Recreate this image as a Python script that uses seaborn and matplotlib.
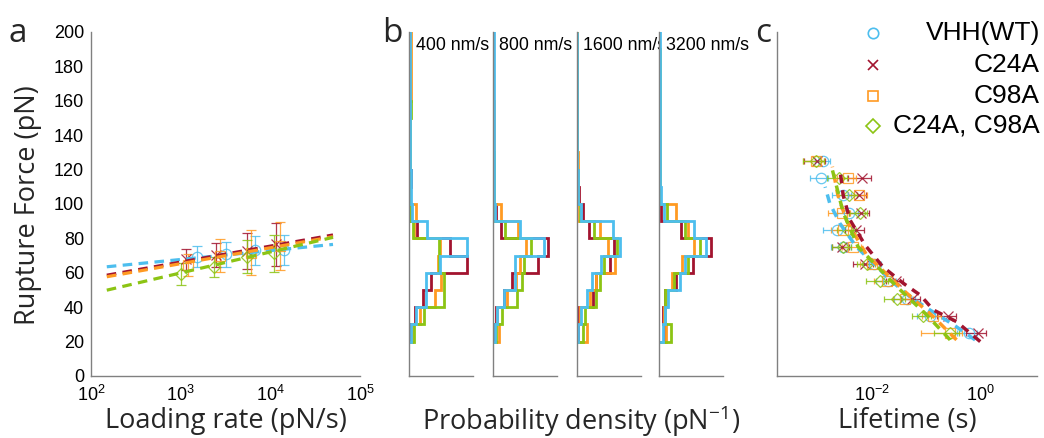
import numpy as np
import pandas as pd
import matplotlib
matplotlib.use("Agg")
import matplotlib.pyplot as plt
import seaborn as sns
from matplotlib.ticker import FixedLocator, NullFormatter, LogLocator, NullLocator
from matplotlib.lines import Line2D

sns.set_theme(style="white")
plt.rcParams['font.family'] = ['Liberation Sans', 'DejaVu Sans']
plt.rcParams['mathtext.fontset'] = 'custom'
plt.rcParams['mathtext.rm'] = 'Liberation Sans'
plt.rcParams['mathtext.it'] = 'Liberation Sans:italic'
plt.rcParams['mathtext.default'] = 'regular'

# ---------------- data ----------------
constructs = ["VHH(WT)", "C24A", "C98A", "C24A, C98A"]
colors = {"VHH(WT)": "#4DBEEE", "C24A": "#A2142F", "C98A": "#FF9A22", "C24A, C98A": "#8CC414"}
markers = {"VHH(WT)": "o", "C24A": "x", "C98A": "s", "C24A, C98A": "D"}

# panel a: loading rate (pN/s) vs most probable rupture force (pN)
rate_wt = [1540, 3240, 6730, 14100]
force_wt = [69.4, 70.8, 73.1, 73.1]
err_wt = [6.0, 7.3, 8.3, 8.7]
rate_c24 = [1155, 2500, 5500, 11500]
force_c24 = [67.8, 70.3, 72.7, 76.5]
err_c24 = [6.3, 6.8, 10.7, 12.5]
rate_c98 = [1206, 2770, 6050, 12900]
force_c98 = [64.5, 70.0, 71.8, 75.6]
err_c98 = [6.5, 9.5, 13.0, 14.0]
rate_dbl = [1000, 2330, 5500, 11000]
force_dbl = [59.2, 63.5, 69.3, 71.3]
err_dbl = [6.3, 5.9, 9.7, 10.7]

fit_rate = [150, 50000]
fit_wt = [63.5, 76.5]
fit_c24 = [58.6, 82.0]
fit_c98 = [57.7, 81.0]
fit_dbl = [49.9, 80.6]

# panel b: histograms of rupture force (density, 1e-3 pN^-1), bins 20..200 pN
bin_edges = list(range(20, 201, 10))
speeds = ["400 nm/s", "800 nm/s", "1600 nm/s", "3200 nm/s"]
hist_wt = [
    [1.2, 4.2, 10.2, 10.2, 18.8, 35.2, 10.8, 1.6, 0.8, 0.8, 0.6, 0.4, 0.3, 0.3, 0.3, 0.2, 0.2, 0.2],
    [1.2, 2.6, 6.6, 13.6, 13.2, 31.2, 16.6, 1.2, 0.6, 0.4, 0.4, 0.4, 0.4, 0.4, 0.4, 0.4, 0.4, 0.4],
    [1.0, 2.4, 6.0, 9.0, 15.0, 26.4, 22.0, 2.4, 0.6, 0.6, 0.4, 0.4, 0.4, 0.4, 0.4, 0.4, 0.4, 0.4],
    [2.0, 3.6, 5.2, 12.6, 15.6, 28.6, 21.2, 2.6, 0.8, 0.6, 0.4, 0.4, 0.4, 0.4, 0.4, 0.4, 0.4, 0.4],
]
hist_c24 = [
    [0.6, 3.2, 8.2, 13.2, 35.2, 24.6, 4.8, 0.8, 0.4, 0.8, 0.4, 0.0, 0.4, 0.0, 0.0, 0.0, 0.0, 0.0],
    [0.4, 1.6, 6.6, 11.6, 27.2, 33.2, 4.8, 1.6, 0.6, 0.6, 0.4, 0.2, 0.2, 0.0, 0.0, 0.0, 0.0, 0.0],
    [1.0, 1.6, 10.0, 12.0, 20.4, 22.4, 7.6, 3.6, 1.2, 0.8, 0.4, 0.2, 0.0, 0.0, 0.0, 0.0, 0.0, 0.0],
    [3.2, 2.0, 3.2, 10.0, 20.6, 31.6, 13.2, 0.8, 0.6, 0.6, 0.6, 0.4, 0.4, 0.4, 0.2, 0.0, 0.0, 0.0],
]
hist_c98 = [
    [1.6, 6.2, 15.6, 19.2, 17.2, 18.8, 2.8, 4.2, 0.6, 0.4, 0.4, 0.4, 0.6, 0.6, 0.8, 0.8, 1.0, 1.0],
    [3.6, 2.6, 8.6, 14.0, 16.6, 20.2, 15.2, 4.8, 0.6, 0.4, 0.4, 0.4, 0.6, 0.4, 0.0, 0.0, 0.0, 0.0],
    [6.0, 2.0, 8.0, 12.0, 23.0, 19.0, 14.0, 0.4, 0.6, 0.6, 0.6, 0.4, 0.0, 0.0, 0.0, 0.0, 0.0, 0.0],
    [4.0, 2.6, 4.6, 7.6, 14.0, 21.2, 17.6, 10.0, 0.6, 0.6, 0.4, 0.4, 0.4, 0.4, 0.6, 0.6, 0.2, 0.0],
]
hist_dbl = [
    [2.8, 8.8, 21.2, 21.2, 18.0, 17.8, 2.4, 0.4, 0.6, 0.4, 0.4, 0.4, 0.6, 0.8, 0.0, 0.0, 0.0, 0.0],
    [1.6, 5.2, 14.6, 17.6, 18.6, 23.2, 7.2, 0.4, 0.6, 0.4, 0.4, 0.2, 0.2, 0.0, 0.0, 0.0, 0.0, 0.0],
    [3.6, 5.0, 12.0, 14.0, 16.4, 24.4, 10.4, 2.0, 1.0, 0.6, 0.4, 0.4, 0.4, 0.4, 0.4, 0.4, 0.4, 0.4],
    [7.2, 3.6, 3.6, 9.2, 17.6, 24.6, 15.6, 4.6, 0.6, 0.4, 0.4, 0.4, 0.4, 0.2, 0.2, 0.2, 0.2, 0.0],
]

# panel c: force-dependent lifetime (s)
life_force = [25, 35, 45, 55, 65, 75, 85, 95, 105, 115, 125]
life_wt = [0.62, 0.118, 0.044, 0.020, 0.011, 0.0030, 0.0023, 0.0039, 0.0030, 0.00115, 0.0013]
lerr_wt = [0.25, 0.05, 0.018, 0.008, 0.004, 0.0012, 0.0010, 0.0016, 0.0011, 0.0004, 0.0004]
life_c24 = [0.88, 0.255, 0.056, 0.028, 0.0075, 0.0029, 0.0052, 0.0063, 0.0058, 0.0066, 0.00098]
lerr_c24 = [0.35, 0.10, 0.022, 0.010, 0.003, 0.0010, 0.0020, 0.0025, 0.0022, 0.0030, 0.0004]
life_c98 = [0.27, 0.135, 0.041, 0.019, 0.010, 0.0046, 0.0030, 0.0028, 0.0059, 0.0037, 0.00095]
lerr_c98 = [0.19, 0.05, 0.016, 0.008, 0.004, 0.0018, 0.0012, 0.0012, 0.0022, 0.0014, 0.0004]
life_dbl = [0.27, 0.089, 0.029, 0.014, 0.0083, 0.0030, 0.0037, 0.0061, 0.0039, 0.0025, 0.00095]
lerr_dbl = [0.13, 0.035, 0.012, 0.006, 0.003, 0.0011, 0.0014, 0.0022, 0.0015, 0.0010, 0.0004]

cfit_force_wt = [21, 29.7, 38.4, 46.1, 55.8, 67.4, 75.2, 88.8, 100.4, 110]
cfit_life_wt = [0.79, 0.32, 0.117, 0.050, 0.022, 0.0093, 0.0052, 0.0026, 0.0017, 0.0014]
cfit_force_c24 = [20, 31.6, 38.4, 47, 53.9, 63.5, 76, 90.7, 105, 120.7]
cfit_life_c24 = [0.98, 0.36, 0.135, 0.078, 0.038, 0.016, 0.0076, 0.0040, 0.0030, 0.0026]
cfit_force_c98 = [21, 34.5, 49, 70.3, 90, 105, 121.7]
cfit_life_c98 = [0.36, 0.135, 0.041, 0.0081, 0.0035, 0.0024, 0.0019]
cfit_force_dbl = [21, 35.5, 51.9, 75.2, 95, 119.8]
cfit_life_dbl = [0.275, 0.102, 0.029, 0.0056, 0.0030, 0.0019]

# ---------------- layout ----------------
W, H = 1044, 438
fig = plt.figure(figsize=(W / 100, H / 100), dpi=100)
spine_col = "#808080"
tick_fs = 13

def fig_rect(x0, y_top, x1, y_bot):
    return [x0 / W, 1 - y_bot / H, (x1 - x0) / W, (y_bot - y_top) / H]

def style_axes(ax):
    for s in ["top", "right"]:
        ax.spines[s].set_visible(False)
    for s in ["left", "bottom"]:
        ax.spines[s].set_color(spine_col)
        ax.spines[s].set_linewidth(1.0)
    ax.tick_params(direction="in", colors=spine_col, labelcolor="black",
                   labelsize=tick_fs, length=4, width=0.8)
    ax.tick_params(axis="x", pad=6.5)
    ax.tick_params(axis="y", pad=5)
    ax.tick_params(which="minor", direction="in", colors=spine_col, length=2, width=0.6)

Y_TOP, Y_BOT = 32, 376

# ---- panel a ----
axA = fig.add_axes(fig_rect(91, Y_TOP, 360, Y_BOT))
series_a = [
    ("VHH(WT)", rate_wt, force_wt, err_wt, fit_wt),
    ("C24A", rate_c24, force_c24, err_c24, fit_c24),
    ("C98A", rate_c98, force_c98, err_c98, fit_c98),
    ("C24A, C98A", rate_dbl, force_dbl, err_dbl, fit_dbl),
]
for name, r, f, e, fit in series_a:
    c = colors[name]
    axA.errorbar(r, f, yerr=e, fmt=markers[name], mfc="none", mec=c, ecolor=c,
                 ms=7.5 if markers[name] != "D" else 6.5, mew=0.9, elinewidth=0.9,
                 capsize=3.5, capthick=0.9, alpha=0.85, zorder=2)
for name, r, f, e, fit in series_a:
    sns.lineplot(x=fit_rate, y=fit, color=colors[name], linestyle=(0, (3, 2)),
                 linewidth=2.3, ax=axA, zorder=3)
axA.set_xscale("log")
axA.set_xlim(1e2, 1e5)
axA.set_ylim(0, 200)
axA.set_yticks(range(0, 201, 20))
axA.xaxis.set_major_locator(FixedLocator([1e2, 1e3, 1e4, 1e5]))
axA.xaxis.set_minor_locator(LogLocator(base=10, subs=np.arange(2, 10)))
axA.xaxis.set_minor_formatter(NullFormatter())
style_axes(axA)
axA.set_xlabel("")
axA.set_ylabel("")

# ---- panel b ----
b_lefts = [409.3, 493.0, 576.7, 659.3]
for k, x0 in enumerate(b_lefts):
    ax = fig.add_axes(fig_rect(x0, Y_TOP, x0 + 64, Y_BOT))
    for name, hist in [("C24A", hist_c24), ("C98A", hist_c98),
                       ("C24A, C98A", hist_dbl), ("VHH(WT)", hist_wt)]:
        ax.stairs(hist[k], bin_edges, orientation="horizontal", baseline=0,
                  color=colors[name], linewidth=2.0, fill=False)
    ax.set_xlim(0, 38.8)
    ax.set_ylim(0, 200)
    ax.set_yticks(range(0, 201, 20))
    ax.set_yticklabels([])
    ax.set_xticks([])
    style_axes(ax)
    ax.set_xlabel("")
    ax.set_ylabel("")
    ax.text(0.1, 0.962, speeds[k], transform=ax.transAxes, fontsize=12.8,
            ha="left", va="center", color="black")

# ---- panel c ----
axC = fig.add_axes(fig_rect(776.7, Y_TOP, 1037, Y_BOT))
series_c = [
    ("VHH(WT)", life_wt, lerr_wt, cfit_force_wt, cfit_life_wt),
    ("C24A", life_c24, lerr_c24, cfit_force_c24, cfit_life_c24),
    ("C98A", life_c98, lerr_c98, cfit_force_c98, cfit_life_c98),
    ("C24A, C98A", life_dbl, lerr_dbl, cfit_force_dbl, cfit_life_dbl),
]
for name, lt, le, ff, fl in series_c:
    c = colors[name]
    axC.errorbar(lt, life_force, xerr=le, fmt=markers[name], mfc="none", mec=c, ecolor=c,
                 ms=7.5 if markers[name] != "D" else 6.5, mew=0.9, elinewidth=0.9,
                 capsize=2.5, capthick=0.9, alpha=0.85, zorder=2)
for name, lt, le, ff, fl in series_c:
    df = pd.DataFrame({"life": fl, "force": ff})
    sns.lineplot(data=df, x="life", y="force", sort=False, estimator=None,
                 color=colors[name], linestyle=(0, (2.5, 2)), linewidth=2.5,
                 ax=axC, zorder=3)
axC.set_xscale("log")
axC.set_xlim(10 ** -3.743, 10 ** 1.033)
axC.set_ylim(0, 200)
axC.set_yticks(range(0, 201, 20))
axC.set_yticklabels([])
axC.xaxis.set_major_locator(FixedLocator([1e-2, 1e0]))
axC.xaxis.set_minor_locator(NullLocator())
style_axes(axC)
axC.set_xlabel("")
axC.set_ylabel("")

# legend (manual, right aligned text like the original)
leg_y = [33, 65, 96, 126]
for name, yy in zip(constructs, leg_y):
    c = colors[name]
    fig.add_artist(Line2D([873 / W], [1 - yy / H], marker=markers[name], mfc="none",
                          mec=c, mew=1.2, ms=7.5 if markers[name] != "D" else 7,
                          linestyle="none", transform=fig.transFigure))
    fig.text(1040 / W, 1 - yy / H, name, ha="right", va="center", fontsize=19,
             color="black")

# axis labels and panel letters
lab_font = ["Open Sans", "DejaVu Sans"]
fig.text(28 / W, 1 - 205 / H, "Rupture Force (pN)", rotation=90, ha="center", va="center",
         fontsize=19.5, family=lab_font)
fig.text(226 / W, 1 - 421 / H, "Loading rate (pN/s)", ha="center", va="center",
         fontsize=19.5, family=lab_font)
fig.text(581 / W, 1 - 421 / H, "Probability density (pN$^{\\mathregular{-1}}$)", ha="center",
         va="center", fontsize=19.5, family=lab_font)
fig.text(907 / W, 1 - 421 / H, "Lifetime (s)", ha="center", va="center",
         fontsize=19.5, family=lab_font)
for letter, xx in [("a", 18), ("b", 392), ("c", 763)]:
    fig.text(xx / W, 1 - 33 / H, letter, ha="center", va="center", fontsize=24,
             family=lab_font)

fig.savefig("out.png", dpi=100)
